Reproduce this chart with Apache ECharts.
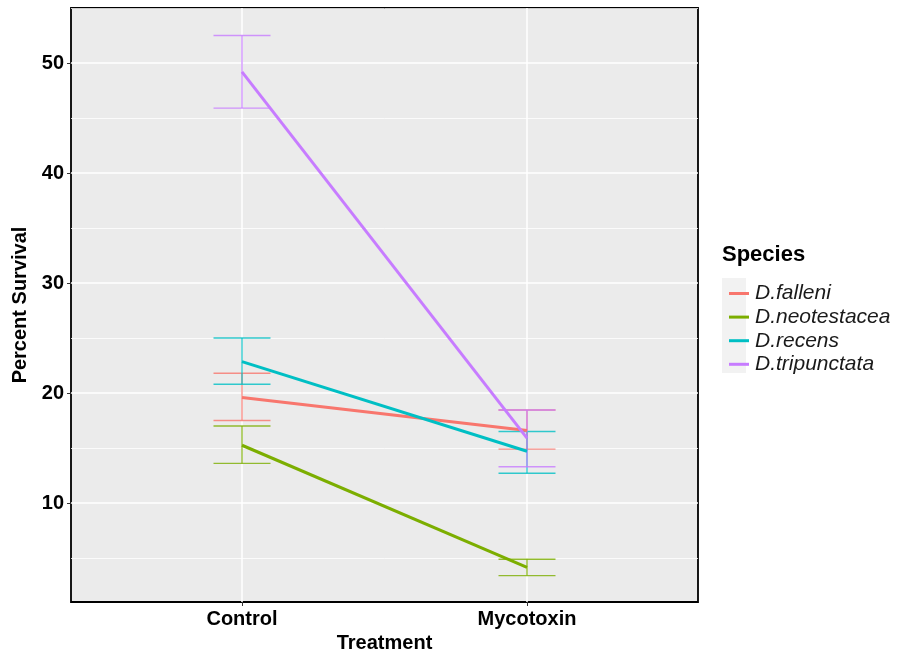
<!DOCTYPE html>
<html>
<head>
<meta charset="utf-8">
<script src="https://cdn.jsdelivr.net/npm/echarts@6/dist/echarts.min.js"></script>
<style>
  html, body { margin: 0; padding: 0; background: #fff; }
  #chart { width: 898px; height: 652px; }
</style>
</head>
<body>
<div id="chart"></div>
<script>
// 数据
const categories = ["Control", "Mycotoxin"];
const species = ["D.falleni", "D.neotestacea", "D.recens", "D.tripunctata"];
const colors = ["#F8766D", "#7CAE00", "#00BFC4", "#C77CFF"];
// 均值与误差范围（按物种，Control / Mycotoxin）
const meanFalleni = [19.6, 16.6];
const meanNeotestacea = [15.25, 4.15];
const meanRecens = [22.85, 14.7];
const meanTripunctata = [49.2, 15.9];
const lowFalleni = [17.5, 14.9];
const lowNeotestacea = [13.6, 3.4];
const lowRecens = [20.8, 12.7];
const lowTripunctata = [45.9, 13.3];
const highFalleni = [21.8, 18.45];
const highNeotestacea = [17.0, 4.88];
const highRecens = [25.0, 16.5];
const highTripunctata = [52.5, 18.45];
const yTicks = [10, 20, 30, 40, 50];
const yMinorTicks = [5, 15, 25, 35, 45, 55];

const means = [meanFalleni, meanNeotestacea, meanRecens, meanTripunctata];
const lows = [lowFalleni, lowNeotestacea, lowRecens, lowTripunctata];
const highs = [highFalleni, highNeotestacea, highRecens, highTripunctata];

let chart = echarts.init(document.getElementById("chart"));

// 误差线
function renderErrorBar(params, api) {
	const x = api.value(0);
	const lo = api.coord([x, api.value(1)]);
	const hi = api.coord([x, api.value(2)]);
	const half = api.size([0.1, 0])[0];
	const style = { stroke: api.visual("color"), lineWidth: 1.4, opacity: 0.8 };
	return {
		type: "group",
		children: [
			{ type: "line", shape: { x1: lo[0], y1: lo[1], x2: hi[0], y2: hi[1] }, style: style },
			{ type: "line", shape: { x1: lo[0] - half, y1: lo[1], x2: lo[0] + half, y2: lo[1] }, style: style },
			{ type: "line", shape: { x1: hi[0] - half, y1: hi[1], x2: hi[0] + half, y2: hi[1] }, style: style },
		],
	};
}

const lineSeries = species.map((name, i) => ({
	name: name,
	type: "line",
	z: 3,
	symbol: "none",
	color: colors[i],
	lineStyle: { width: 3, color: colors[i] },
	data: categories.map((c, j) => [j + 1, means[i][j]]),
}));

const errSeries = species.map((name, i) => ({
	name: name,
	type: "custom",
	z: 2,
	color: colors[i],
	renderItem: renderErrorBar,
	encode: { x: 0, y: [1, 2] },
	data: categories.map((c, j) => [j + 1, lows[i][j], highs[i][j]]),
}));

const labelFont = {
	fontFamily: "Liberation Sans, Arial, sans-serif",
	fontWeight: "bold",
	fontSize: 20,
	color: "#000",
};

const option = {
	animation: false,
	textStyle: { fontFamily: "Liberation Sans, Arial, sans-serif" },
	title: {
		text: "Species",
		left: 717,
		top: 239,
		textStyle: { fontSize: 22, fontWeight: "bold", color: "#000" },
	},
	legend: {
		data: species,
		orient: "vertical",
		left: 724,
		top: 278,
		icon: "rect",
		itemWidth: 20,
		itemHeight: 3,
		itemGap: 2.6,
		textStyle: { fontSize: 21, fontStyle: "italic", color: "#1a1a1a", lineHeight: 20, padding: [0, 0, 0, 1] },
	},
	graphic: [
		{
			type: "rect",
			left: 722,
			top: 278,
			z: 0,
			shape: { width: 24, height: 95 },
			style: { fill: "#F2F2F2" },
		},
	],
	grid: {
		left: 71,
		right: 200,
		top: 8,
		bottom: 50,
		outerBoundsMode: "none",
		show: true,
		backgroundColor: "#EBEBEB",
		borderColor: "#000",
		borderWidth: 1.8,
	},
	xAxis: {
		type: "value",
		min: 0.4,
		max: 2.6,
		name: "Treatment",
		nameLocation: "middle",
		nameGap: 30,
		nameTextStyle: labelFont,
		axisLine: { show: false },
		axisTick: { show: true, customValues: [1, 2], length: 4, lineStyle: { color: "#333" } },
		axisLabel: {
			customValues: [1, 2],
			margin: 7,
			formatter: (v) => categories[Math.round(v) - 1],
			...labelFont,
		},
		splitLine: { show: true, lineStyle: { color: "#fff", width: 1.5 } },
	},
	yAxis: [
		{
			type: "value",
			min: 1,
			max: 55,
			name: "Percent Survival",
			nameLocation: "middle",
			nameGap: 38,
			nameTextStyle: labelFont,
			axisLine: { show: false },
			axisTick: { show: true, customValues: yTicks, length: 4, lineStyle: { color: "#333" } },
			axisLabel: { customValues: yTicks, margin: 7, ...labelFont },
			splitLine: { show: true, lineStyle: { color: "#fff", width: 1.5 } },
		},
		{
			type: "value",
			min: 1,
			max: 55,
			position: "left",
			axisLine: { show: false },
			axisTick: { show: false, customValues: yMinorTicks },
			axisLabel: { show: false, customValues: yMinorTicks },
			splitLine: { show: true, lineStyle: { color: "#fff", width: 0.8 } },
		},
	],
	series: lineSeries.concat(errSeries),
};

chart.setOption(option);
</script>
</body>
</html>
